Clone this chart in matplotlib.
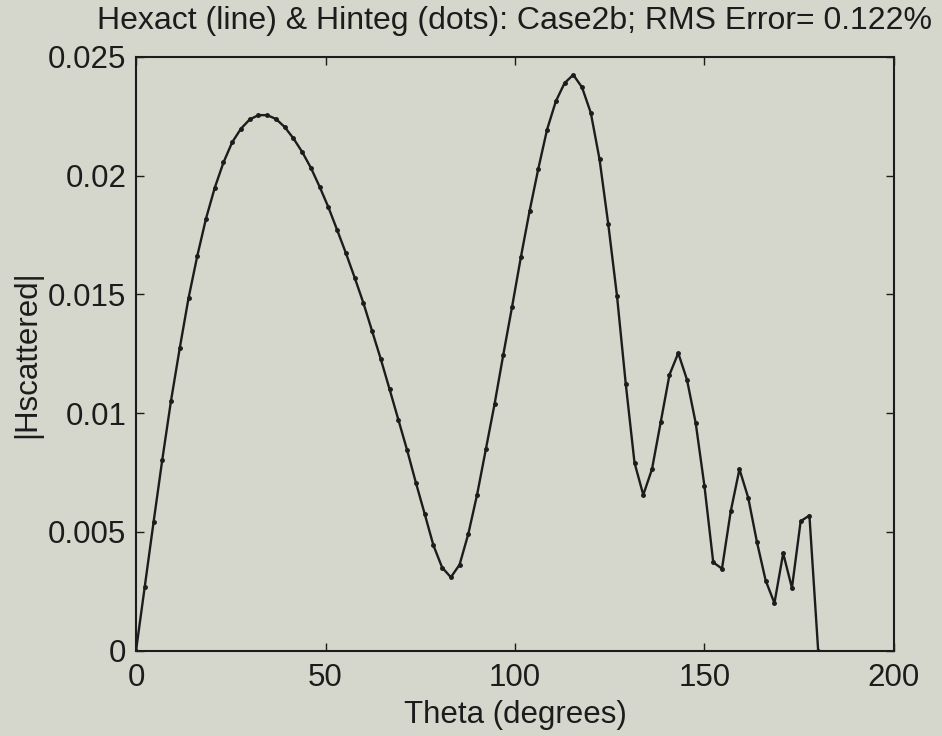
import matplotlib
matplotlib.use("Agg")
import matplotlib.pyplot as plt

# scattering angle samples (degrees)
theta = [0.00, 2.31, 4.62, 6.92, 9.23, 11.54, 13.85, 16.15, 18.46, 20.77,
         23.08, 25.38, 27.69, 30.00, 32.31, 34.62, 36.92, 39.23, 41.54, 43.85,
         46.15, 48.46, 50.77, 53.08, 55.38, 57.69, 60.00, 62.31, 64.62, 66.92,
         69.23, 71.54, 73.85, 76.15, 78.46, 80.77, 83.08, 85.38, 87.69, 90.00,
         92.31, 94.62, 96.92, 99.23, 101.54, 103.85, 106.15, 108.46, 110.77, 113.08,
         115.38, 117.69, 120.00, 122.31, 124.62, 126.92, 129.23, 131.54, 133.85, 136.15,
         138.46, 140.77, 143.08, 145.38, 147.69, 150.00, 152.31, 154.62, 156.92, 159.23,
         161.54, 163.85, 166.15, 168.46, 170.77, 173.08, 175.38, 177.69, 180.00]

# |H scattered| magnitude
hscat = [0.0, 0.0027, 0.0054, 0.00803, 0.01052, 0.01274, 0.01484, 0.01661, 0.01819, 0.01949,
         0.02056, 0.02141, 0.02198, 0.02237, 0.02255, 0.02255, 0.02239, 0.02205, 0.02157, 0.02100,
         0.02033, 0.01953, 0.01867, 0.01771, 0.01674, 0.01571, 0.01464, 0.01345, 0.01226, 0.01100,
         0.00972, 0.00844, 0.00707, 0.00577, 0.00444, 0.00350, 0.00309, 0.00362, 0.00492, 0.00657,
         0.00848, 0.01039, 0.01247, 0.01448, 0.01656, 0.01851, 0.02029, 0.02194, 0.02313, 0.02390,
         0.02425, 0.02372, 0.02265, 0.02069, 0.01795, 0.01493, 0.01123, 0.00791, 0.00656, 0.00764,
         0.00963, 0.01162, 0.01253, 0.01141, 0.00958, 0.00692, 0.00372, 0.00345, 0.00586, 0.00764,
         0.00644, 0.00457, 0.00295, 0.00200, 0.00410, 0.00264, 0.00545, 0.00569, 0.0]

xticks = [0, 50, 100, 150, 200]
yticks = [0, 0.005, 0.01, 0.015, 0.02, 0.025]
yticklabels = ["0", "0.005", "0.01", "0.015", "0.02", "0.025"]

bg = "#d5d7cd"
ink = "#1c1c1c"
plt.rcParams["font.family"] = ["Liberation Sans", "DejaVu Sans"]

fig = plt.figure(figsize=(9.42, 7.36), dpi=100, facecolor=bg)
ax = fig.add_axes([0.1444, 0.1160, 0.8046, 0.8066], facecolor=bg)

ax.plot(theta, hscat, color=ink, lw=1.7)          # Hexact
ax.plot(theta, hscat, ".", color=ink, ms=5)       # Hinteg

ax.set_xlim(0, 200)
ax.set_ylim(0, 0.025)
ax.set_xticks(xticks)
ax.set_xticklabels([str(t) for t in xticks])
ax.set_yticks(yticks)
ax.set_yticklabels(yticklabels)
ax.tick_params(direction="in", length=6, width=1, top=True, right=True,
               labelsize=22.5, colors=ink)
ax.tick_params(axis="x", pad=9)
ax.tick_params(axis="y", pad=7)
for s in ax.spines.values():
    s.set_linewidth(1.5)
    s.set_color(ink)

ax.set_xlabel("Theta (degrees)", fontsize=22.5, color=ink, labelpad=5)
ax.set_ylabel("|Hscattered|", fontsize=22.5, color=ink, labelpad=4)
ax.set_title("Hexact (line) & Hinteg (dots): Case2b; RMS Error= 0.122%",
             fontsize=23, color=ink, pad=20)

fig.savefig("out.png", dpi=100, facecolor=bg)
